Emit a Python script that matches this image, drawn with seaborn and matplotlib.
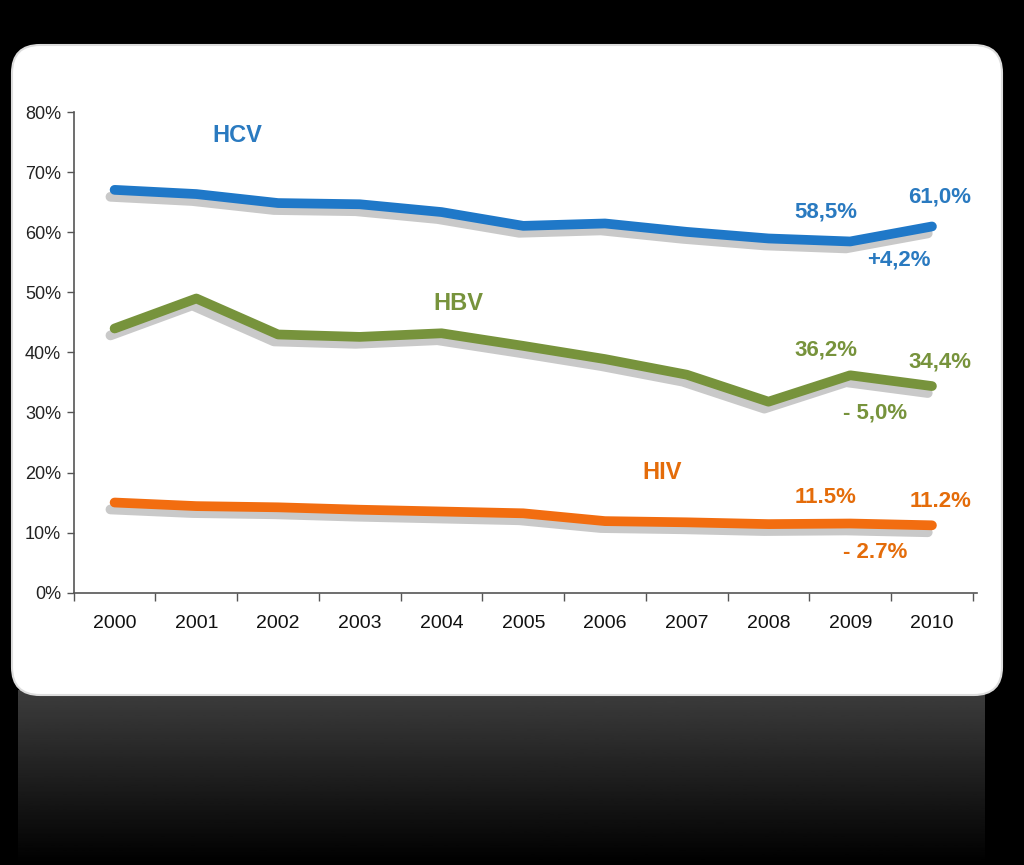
import matplotlib
matplotlib.use("Agg")
import matplotlib.pyplot as plt
import matplotlib.patheffects as pe
from matplotlib.patches import FancyBboxPatch
import seaborn as sns
import pandas as pd
import numpy as np

# Data (share of cases, %)
years = ['2000', '2001', '2002', '2003', '2004', '2005', '2006', '2007', '2008', '2009', '2010']
hcv = [67.1, 66.4, 64.9, 64.7, 63.4, 61.1, 61.5, 60.1, 59.0, 58.5, 61.0]
hbv = [44.0, 49.0, 43.0, 42.6, 43.2, 41.1, 38.9, 36.3, 31.8, 36.2, 34.4]
hiv = [15.0, 14.4, 14.2, 13.8, 13.5, 13.2, 11.9, 11.7, 11.4, 11.5, 11.2]
series_names = ['HCV', 'HBV', 'HIV']
series_colors = ['#1f78c8', '#77933c', '#f26d10']
text_colors = ['#2a7ac0', '#77933c', '#e46c0a']
y_ticks = [0, 10, 20, 30, 40, 50, 60, 70, 80]

df = pd.DataFrame({'Year': list(range(len(years))) * 3,
                   'Share': hcv + hbv + hiv,
                   'Virus': [n for n in series_names for _ in years]})

sns.set_style('white')
plt.rcParams['font.family'] = ['Liberation Sans', 'DejaVu Sans']

fig = plt.figure(figsize=(10.24, 8.65), dpi=100, facecolor='black')

# background: white rounded card and a faded reflection below it
bg = fig.add_axes([0, 0, 1, 1])
bg.set_xlim(0, 1024)
bg.set_ylim(865, 0)
bg.axis('off')
grad = np.linspace(0.24, 0.0, 100).reshape(-1, 1)
bg.imshow(grad, cmap='gray', vmin=0, vmax=1, extent=[18, 985, 865, 690], aspect='auto', zorder=0)
card = FancyBboxPatch((12, 45), 990, 650, boxstyle='round,pad=0,rounding_size=28',
                      facecolor='white', edgecolor='#dddddd', linewidth=1.5, zorder=1)
bg.add_patch(card)

ax = fig.add_axes([0.072, 0.315, 0.882, 0.555])
ax.set_facecolor('none')
sns.lineplot(data=df, x='Year', y='Share', hue='Virus', palette=series_colors,
             linewidth=7, legend=False, ax=ax)
for line in ax.get_lines():
    line.set_solid_capstyle('round')
    line.set_path_effects([pe.SimpleLineShadow(offset=(-3, -5), shadow_color='#888888', alpha=0.45),
                           pe.Normal()])

ax.set_xlim(-0.45, 10.55)
ax.set_ylim(0, 80)
ax.set_yticks(y_ticks)
ax.set_yticklabels([f'{v}%' for v in y_ticks], fontsize=13, color='#222222')
ax.set_xticks(range(len(years)))
ax.set_xticklabels(years, fontsize=14, color='#111111')
ax.set_xticks(np.arange(-0.5, len(years), 1.0), minor=True)
ax.tick_params(axis='x', which='major', bottom=True, length=0, pad=16)
ax.tick_params(axis='x', which='minor', bottom=True, length=6, width=1, color='#555555', direction='out')
ax.tick_params(axis='y', left=True, length=5, width=1, color='#555555', direction='out', pad=4)
for s in ['top', 'right']:
    ax.spines[s].set_visible(False)
for s in ['left', 'bottom']:
    ax.spines[s].set_color('#555555')
    ax.spines[s].set_linewidth(1.2)
ax.set_xlabel('')
ax.set_ylabel('')

# series names
ax.text(1.5, 75, 'HCV', color=text_colors[0], fontsize=17, fontweight='bold', ha='center')
ax.text(4.2, 47, 'HBV', color=text_colors[1], fontsize=17, fontweight='bold', ha='center')
ax.text(6.7, 19, 'HIV', color=text_colors[2], fontsize=17, fontweight='bold', ha='center')

# end values and changes
notes = [
    (8.7, 62.5, '58,5%', 0), (10.1, 65.0, '61,0%', 0), (9.6, 54.5, '+4,2%', 0),
    (8.7, 39.5, '36,2%', 1), (10.1, 37.5, '34,4%', 1), (9.3, 29.0, '- 5,0%', 1),
    (8.7, 15.0, '11.5%', 2), (10.1, 14.3, '11.2%', 2), (9.3, 5.8, '- 2.7%', 2),
]
for x, y, label, k in notes:
    ax.text(x, y, label, color=text_colors[k], fontsize=16, fontweight='bold', ha='center')

fig.savefig('out.png', dpi=100, facecolor='black')
